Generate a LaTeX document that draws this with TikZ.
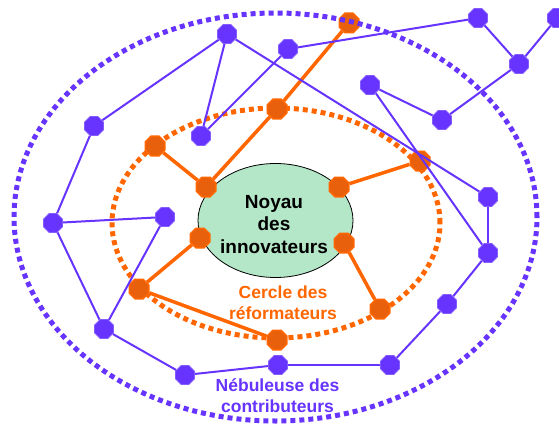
\documentclass[tikz,border=0pt]{standalone}
\usepackage{fontspec}
\setmainfont{Liberation Sans}
\usetikzlibrary{shapes.geometric}
\definecolor{violet1}{HTML}{6633FF}
\definecolor{orng}{HTML}{FF6600}
\definecolor{orngdark}{HTML}{E8600C}
\definecolor{mint}{HTML}{B4E6C8}
\pgfdeclarelayer{bg}
\pgfdeclarelayer{oedge}
\pgfdeclarelayer{onode}
\pgfdeclarelayer{bedge}
\pgfdeclarelayer{fg}
\pgfsetlayers{bg,oedge,onode,bedge,main,fg}
\begin{document}
\begin{tikzpicture}[x=1pt,y=-1pt,
  bnode/.style={regular polygon, regular polygon sides=8, minimum size=20.5pt, inner sep=0pt, fill=violet1, draw=violet1!80!white, line width=0.8pt},
  onode/.style={regular polygon, regular polygon sides=8, minimum size=21pt, inner sep=0pt, fill=orngdark, draw=orng, line width=1.6pt},
  bline/.style={draw=violet1, line width=2pt},
  oline/.style={draw=orng, line width=3.5pt},
  ring/.style={line width=5pt, dash pattern=on 5pt off 4pt},
  lbl/.style={font=\bfseries\fontsize{17.5}{21}\selectfont, align=center, inner sep=0pt}]
\useasboundingbox (0,0) rectangle (559,425);

% orange nodes
\begin{pgfonlayer}{onode}
\node[onode] (o1) at (349,23) {};
\node[onode] (o2) at (277,109) {};
\node[onode] (o3) at (155,146) {};
\node[onode] (o4) at (206,187) {};
\node[onode] (o5) at (339,187) {};
\node[onode] (o6) at (420,161) {};
\node[onode] (o7) at (200,238) {};
\node[onode] (o8) at (139,289) {};
\node[onode] (o9) at (344,243) {};
\node[onode] (o10) at (380,309) {};
\node[onode] (o11) at (277,340) {};
\end{pgfonlayer}

% blue nodes
\node[bnode] (b1) at (227,34) {};
\node[bnode] (b2) at (94,126) {};
\node[bnode] (b3) at (201,136) {};
\node[bnode] (b4) at (288,49) {};
\node[bnode] (b5) at (478,18) {};
\node[bnode] (b6) at (557,18) {};
\node[bnode] (b7) at (519,64) {};
\node[bnode] (b8) at (370,85) {};
\node[bnode] (b9) at (442,120) {};
\node[bnode] (b10) at (488,197) {};
\node[bnode] (b11) at (488,253) {};
\node[bnode] (b12) at (447,304) {};
\node[bnode] (b13) at (390,365) {};
\node[bnode] (b14) at (278,365) {};
\node[bnode] (b15) at (185,375) {};
\node[bnode] (b16) at (104,329) {};
\node[bnode] (b17) at (53,223) {};
\node[bnode] (b18) at (165,217) {};

% rings and core
\begin{pgfonlayer}{bg}
\fill[white] (0,0) rectangle (559,425);
\draw[orng, ring] (276,223) ellipse [x radius=164pt, y radius=115pt];
\node[ellipse, draw=black, line width=0.8pt, fill=mint, minimum width=155pt, minimum height=114pt, inner sep=0pt] (core) at (275.5,220.5) {};
\node[font=\bfseries\fontsize{19}{22.5}\selectfont, align=center, inner sep=0pt] (coretext) at (274,224.5) {Noyau\\des\\innovateurs};
\end{pgfonlayer}

\begin{pgfonlayer}{fg}
\draw[violet1, ring] (275.5,217) ellipse [x radius=261.5pt, y radius=204pt];
\end{pgfonlayer}

% orange edges
\begin{pgfonlayer}{oedge}
\draw[oline] (o1) -- (o2);
\draw[oline] (o2) -- (o4);
\draw[oline] (o3) -- (o4);
\draw[oline] (o5) -- (o6);
\draw[oline] (o7) -- (o8);
\draw[oline] (o8) -- (o11);
\draw[oline] (o9) -- (o10);
\end{pgfonlayer}

% blue edges
\begin{pgfonlayer}{bedge}
\draw[bline] (b2) -- (b1);
\draw[bline] (b1) -- (b3);
\draw[bline] (b1) -- (b10);
\draw[bline] (b3) -- (b4);
\draw[bline] (b4) -- (b5);
\draw[bline] (b5) -- (b7);
\draw[bline] (b7) -- (b6);
\draw[bline] (b7) -- (b9);
\draw[bline] (b9) -- (b8);
\draw[bline] (b8) -- (b11);
\draw[bline] (b10) -- (b11);
\draw[bline] (b11) -- (b12);
\draw[bline] (b12) -- (b13);
\draw[bline] (b13) -- (b14);
\draw[bline] (b14) -- (b15);
\draw[bline] (b15) -- (b16);
\draw[bline] (b16) -- (b17);
\draw[bline] (b16) -- (b18);
\draw[bline] (b17) -- (b18);
\draw[bline] (b2) -- (b17);
\end{pgfonlayer}

% labels
\node[lbl, text=orng] (cercle) at (283,302.5) {Cercle des\\réformateurs};
\node[lbl, text=violet1] (nebuleuse) at (277.5,395.5) {Nébuleuse des\\contributeurs};
\end{tikzpicture}
\end{document}
